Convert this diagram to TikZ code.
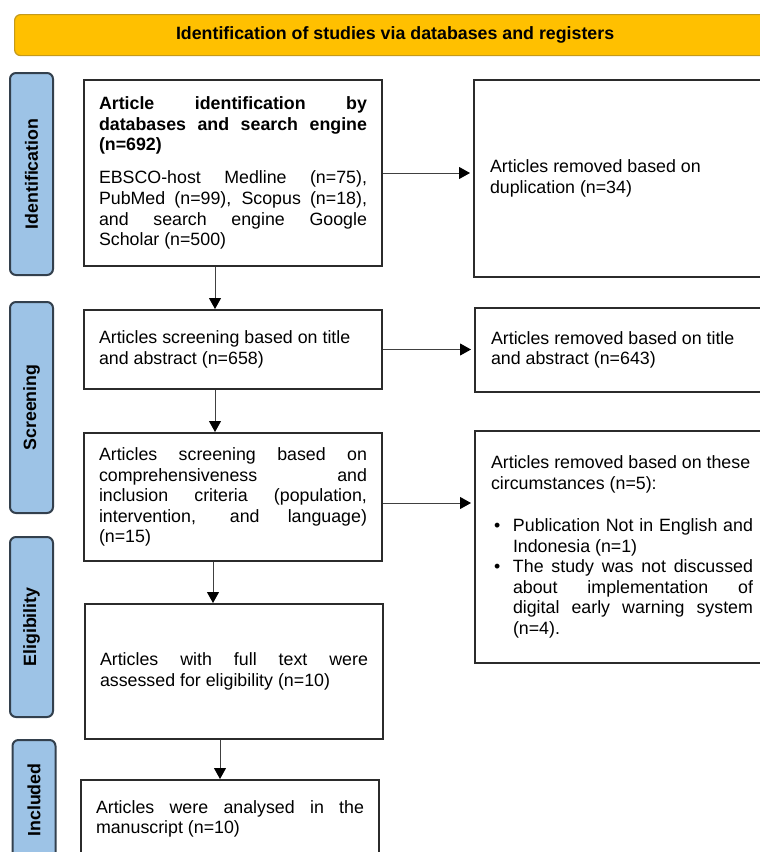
\documentclass[tikz,border=0pt]{standalone}
\usepackage{fontspec}
\setmainfont{Liberation Sans}
\usetikzlibrary{arrows.meta}

\hyphenpenalty=10000
\exhyphenpenalty=10000
\tolerance=10000

\definecolor{bannergold}{HTML}{FFC000}
\definecolor{bannerline}{HTML}{C49A1C}
\definecolor{stageblue}{HTML}{9DC3E6}
\definecolor{stageline}{HTML}{33404D}
\definecolor{boxline}{HTML}{2B2B2B}

\newcommand{\flowitem}[1]{\par\noindent\hangindent=11pt\hangafter=1\makebox[11pt][l]{\hspace{1.5pt}\textbullet}#1\par}

\tikzset{
  txt/.style={font=\fontsize{8.9}{10.3}\selectfont},
  banner/.style={txt, draw=bannerline, line width=0.6pt, fill=bannergold, rounded corners=3pt, anchor=north west, inner sep=0pt, font=\fontsize{8.9}{10.3}\selectfont\bfseries},
  stage/.style={draw=stageline, line width=1pt, fill=stageblue, rounded corners=3pt, rotate=90, minimum height=21.5pt, inner sep=0pt, font=\fontsize{8.9}{10.3}\selectfont\bfseries},
  flowbox/.style={txt, draw=boxline, line width=1pt, anchor=north west, text width=134pt, inner xsep=7.5pt, inner ysep=0pt, align=justify},
  outbox/.style={flowbox, text width=131pt, inner xsep=8pt},
  arr/.style={draw=black!75, line width=0.5pt, -{Triangle[length=5.5pt,width=6pt,black]}}
}

\begin{document}
\begin{tikzpicture}[x=0.5pt,y=0.5pt]

\useasboundingbox (0,0) rectangle (760,-852);
\clip (0,0) rectangle (760,-852);

%%%%%% Banner
\node [banner, minimum width=380.5pt, minimum height=20.5pt] (head) at (14,-14) {Identification of studies via databases and registers};

%%%%%% Stages
\node [stage, minimum width=101pt] (sid) at (31.5,-174) {Identification};
\node [stage, minimum width=105.5pt] (sscr) at (31.5,-407.5) {Screening};
\node [stage, minimum width=90pt] (selig) at (31.5,-627) {Eligibility};
\node [stage, minimum width=60pt] (sincl) at (34,-800) {Included};

%%%%%% Main column
\node [flowbox, minimum height=93pt] (b1) at (83,-79) {{\bfseries Article identification by\linebreak databases and search engine\linebreak (n=692)\par}\vspace{6.2pt}EBSCO-host Medline (n=75),\linebreak PubMed (n=99), Scopus (n=18),\linebreak and search engine Google\linebreak Scholar (n=500)};

\node [flowbox, minimum height=39.5pt] (b2) at (83,-309) {Articles screening based on title\\ and abstract (n=658)};

\node [flowbox, minimum height=64pt] (b3) at (83,-432) {Articles screening based on\linebreak comprehensiveness and\linebreak inclusion criteria (population,\linebreak intervention, and language)\linebreak (n=15)};

\node [flowbox, minimum height=67.5pt] (b4) at (84,-603) {Articles with full text were\linebreak assessed for eligibility (n=10)};

\node [flowbox, minimum height=39pt] (b5) at (80,-779) {Articles were analysed in the\linebreak manuscript (n=10)};

%%%%%% Removed records
\node [outbox, minimum height=98.5pt] (r1) at (473,-79) {Articles removed based on\\ duplication (n=34)};

\node [outbox, minimum height=42pt] (r2) at (474,-307) {Articles removed based on title\\ and abstract (n=643)};

\node [outbox, minimum height=116pt] (r3) at (474,-430) {Articles removed based on these\\ circumstances (n=5):\par\vspace{10.7pt}%
\flowitem{Publication Not in English and\linebreak Indonesia (n=1)}%
\flowitem{The study was not discussed\linebreak about implementation of\linebreak digital early warning system\linebreak (n=4).}};

%%%%%% Arrows
\coordinate (v1) at (215,0); \coordinate (v3) at (213,0); \coordinate (v4) at (220,0);

\draw [arr] (b1.south -| v1) -- (b2.north -| v1);
\draw [arr] (b2.south -| v1) -- (b3.north -| v1);
\draw [arr] (b3.south -| v3) -- (b4.north -| v3);
\draw [arr] (b4.south -| v4) -- (b5.north -| v4);

\draw [arr, shorten >=1.5pt] (b1.east) -- (b1.east -| r1.west);
\draw [arr, shorten >=1.5pt] (b2.east) -- (b2.east -| r2.west);
\draw [arr, shorten >=1.5pt] ([yshift=-3pt]b3.east) -- ([yshift=-3pt]b3.east -| r3.west);

\end{tikzpicture}
\end{document}
